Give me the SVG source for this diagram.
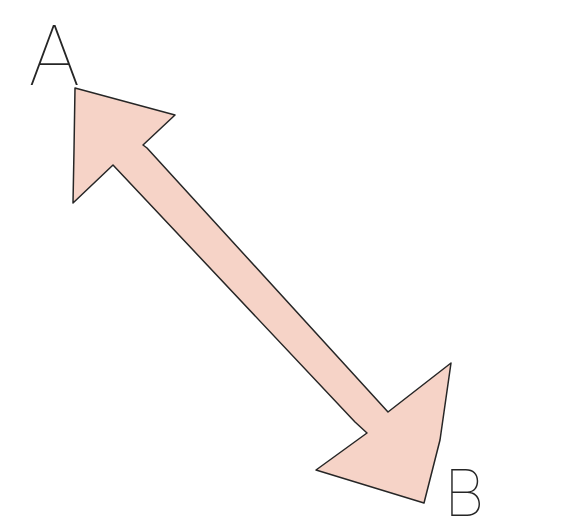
<svg xmlns="http://www.w3.org/2000/svg" width="573" height="531" viewBox="0 0 573 531">
<style>
.arrow{fill:#f6d3c7;stroke:#262626;stroke-width:1.5;stroke-linejoin:round}
.lbl{font-family:"Inter","Open Sans","Liberation Sans",sans-serif;font-weight:100;fill:#262626}
</style>
<rect width="573" height="531" fill="#ffffff"/>
<g id="connectors">
<path class="arrow" d="M75,88 L175,115 L143,145 L147,148 L388,412 L451,363 L440,440 L424,503 L316,470 L367,433 L355,422 L113,165 L73,203 L74,150 Z"/>
</g>
<g id="A">
<text class="lbl" x="28" y="85" font-size="82">A</text>
</g>
<g id="B">
<text class="lbl" x="444" y="516" font-size="64">B</text>
</g>
</svg>
